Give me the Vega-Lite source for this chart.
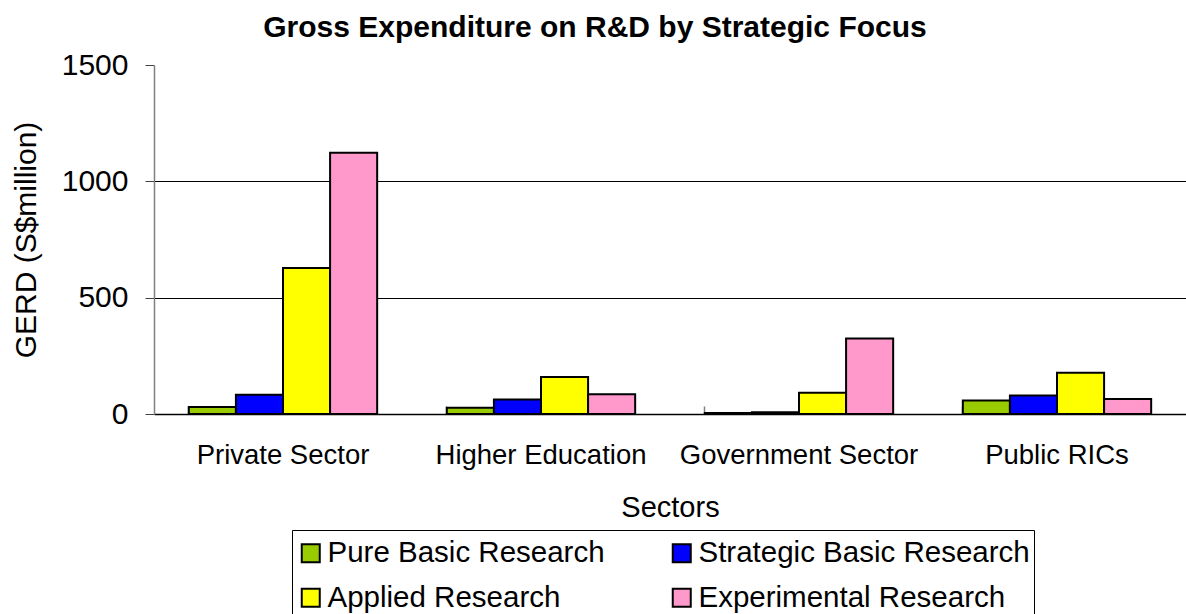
{
  "$schema": "https://vega.github.io/schema/vega-lite/v6.json",
  "width": 1032,
  "height": 349,
  "autosize": {"type": "none"},
  "padding": {"left": 154, "top": 65, "right": 0, "bottom": 200},
  "background": "white",
  "config": {"view": {"stroke": null}, "font": "Liberation Sans"},
  "title": {
    "text": "Gross Expenditure on R&D by Strategic Focus",
    "fontSize": 30,
    "fontWeight": "bold",
    "font": "Liberation Sans",
    "color": "black",
    "anchor": "middle",
    "frame": "group",
    "dx": -75,
    "dy": 23,
    "baseline": "alphabetic",
    "offset": 6
  },
  "data": {
    "values": [
      {"sector": "Private Sector", "focus": "Pure Basic Research", "value": 30},
      {"sector": "Private Sector", "focus": "Strategic Basic Research", "value": 83},
      {"sector": "Private Sector", "focus": "Applied Research", "value": 627},
      {"sector": "Private Sector", "focus": "Experimental Research", "value": 1123},
      {"sector": "Higher Education", "focus": "Pure Basic Research", "value": 27},
      {"sector": "Higher Education", "focus": "Strategic Basic Research", "value": 62},
      {"sector": "Higher Education", "focus": "Applied Research", "value": 159},
      {"sector": "Higher Education", "focus": "Experimental Research", "value": 85},
      {"sector": "Government Sector", "focus": "Pure Basic Research", "value": 4},
      {"sector": "Government Sector", "focus": "Strategic Basic Research", "value": 7},
      {"sector": "Government Sector", "focus": "Applied Research", "value": 91},
      {"sector": "Government Sector", "focus": "Experimental Research", "value": 325},
      {"sector": "Public RICs", "focus": "Pure Basic Research", "value": 58},
      {"sector": "Public RICs", "focus": "Strategic Basic Research", "value": 80},
      {"sector": "Public RICs", "focus": "Applied Research", "value": 177},
      {"sector": "Public RICs", "focus": "Experimental Research", "value": 65}
    ]
  },
  "mark": {"type": "bar", "stroke": "black", "strokeWidth": 2},
  "encoding": {
    "x": {
      "field": "sector",
      "type": "nominal",
      "sort": ["Private Sector", "Higher Education", "Government Sector", "Public RICs"],
      "scale": {"paddingInner": 0.27, "paddingOuter": 0.135},
      "axis": {
        "title": "Sectors",
        "titleFontSize": 29,
        "titleFontWeight": "normal",
        "titleColor": "black",
        "titlePadding": 25,
        "labelFontSize": 27.5,
        "labelColor": "black",
        "labelAngle": 0,
        "labelLimit": 400,
        "labelPadding": 35,
        "bandPosition": 0,
        "tickSize": -8,
        "tickColor": "#808080",
        "tickWidth": 1.5,
        "domainColor": "black",
        "domainWidth": 1.5,
        "grid": false
      }
    },
    "xOffset": {
      "field": "focus",
      "type": "nominal",
      "sort": ["Pure Basic Research", "Strategic Basic Research", "Applied Research", "Experimental Research"],
      "scale": {"paddingInner": 0, "paddingOuter": 0}
    },
    "y": {
      "field": "value",
      "type": "quantitative",
      "scale": {"domain": [0, 1500], "nice": false},
      "axis": {
        "title": "GERD (S$million)",
        "titleFontSize": 30,
        "titleFontWeight": "normal",
        "titleColor": "black",
        "titlePadding": 20,
        "values": [0, 500, 1000, 1500],
        "format": "d",
        "labelFontSize": 30,
        "labelColor": "black",
        "labelPadding": 17,
        "tickSize": 9,
        "tickColor": "#404040",
        "domainColor": "#808080",
        "domainWidth": 1.5,
        "grid": true,
        "gridColor": {"condition": {"test": "datum.value == 1500 || datum.value == 0", "value": "transparent"}, "value": "black"},
        "gridWidth": 1
      }
    },
    "color": {
      "field": "focus",
      "type": "nominal",
      "sort": ["Pure Basic Research", "Strategic Basic Research", "Applied Research", "Experimental Research"],
      "scale": {
        "domain": ["Pure Basic Research", "Strategic Basic Research", "Applied Research", "Experimental Research"],
        "range": ["#99CC00", "#0000FF", "#FFFF00", "#FF99CC"]
      },
      "legend": {
        "title": " ",
        "titleFontSize": 2,
        "titlePadding": 2,
        "orient": "none",
        "legendX": 138,
        "legendY": 465,
        "columns": 2,
        "direction": "horizontal",
        "columnPadding": 62,
        "rowPadding": 14,
        "padding": 4,
        "strokeColor": "black",
        "fillColor": "white",
        "symbolType": "square",
        "symbolSize": 324,
        "symbolStrokeColor": "black",
        "symbolStrokeWidth": 2,
        "symbolOpacity": 1,
        "labelFontSize": 29.5,
        "labelColor": "black",
        "labelOffset": 2,
        "labelLimit": 600
      }
    }
  }
}
